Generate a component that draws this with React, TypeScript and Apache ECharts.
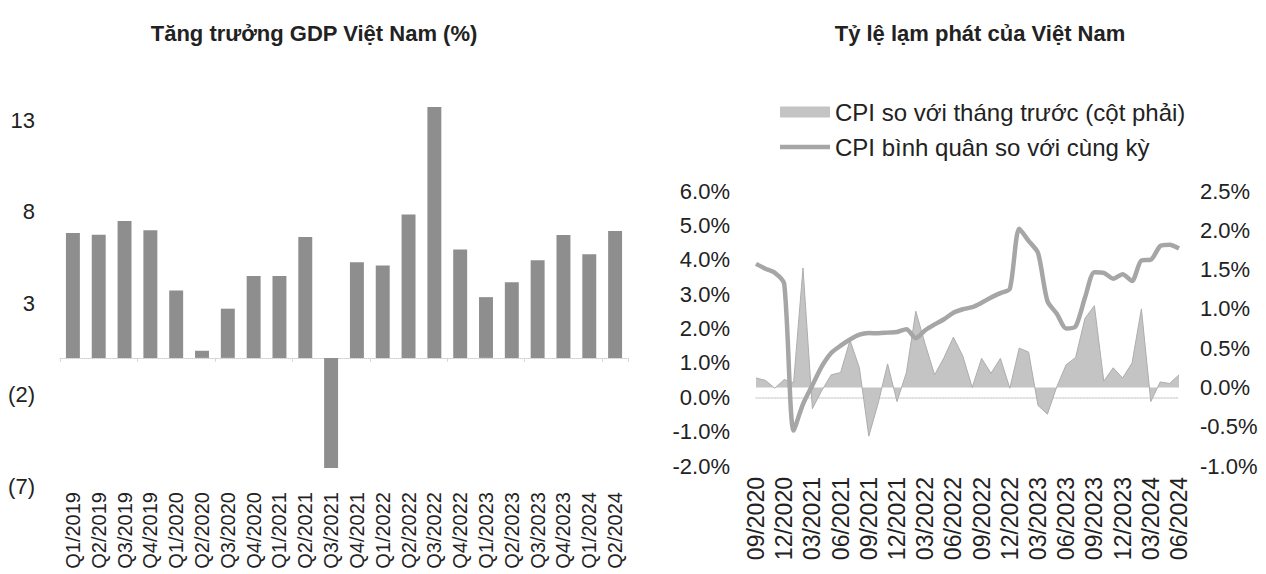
import React, { useEffect, useRef } from "react";
import * as echarts from "echarts";

const gdpQuarters = [
  "Q1/2019", "Q2/2019", "Q3/2019", "Q4/2019",
  "Q1/2020", "Q2/2020", "Q3/2020", "Q4/2020",
  "Q1/2021", "Q2/2021", "Q3/2021", "Q4/2021",
  "Q1/2022", "Q2/2022", "Q3/2022", "Q4/2022",
  "Q1/2023", "Q2/2023", "Q3/2023", "Q4/2023",
  "Q1/2024", "Q2/2024",
];
const gdpGrowth = [
  6.82, 6.73, 7.48, 6.97,
  3.68, 0.39, 2.69, 4.48,
  4.48, 6.61, -6.02, 5.22,
  5.05, 7.83, 13.71, 5.92,
  3.32, 4.14, 5.33, 6.72,
  5.66, 6.93,
];

const cpiMonths = [
  "09/2020", "10/2020", "11/2020", "12/2020",
  "01/2021", "02/2021", "03/2021", "04/2021", "05/2021", "06/2021",
  "07/2021", "08/2021", "09/2021", "10/2021", "11/2021", "12/2021",
  "01/2022", "02/2022", "03/2022", "04/2022", "05/2022", "06/2022",
  "07/2022", "08/2022", "09/2022", "10/2022", "11/2022", "12/2022",
  "01/2023", "02/2023", "03/2023", "04/2023", "05/2023", "06/2023",
  "07/2023", "08/2023", "09/2023", "10/2023", "11/2023", "12/2023",
  "01/2024", "02/2024", "03/2024", "04/2024", "05/2024", "06/2024",
];
// CPI so với tháng trước (%), right axis
const cpiMoM = [
  0.12, 0.09, -0.01, 0.1,
  0.06, 1.52, -0.27, -0.04, 0.16, 0.19,
  0.6, 0.25, -0.62, -0.2, 0.3, -0.18,
  0.19, 0.97, 0.55, 0.16, 0.38, 0.64,
  0.4, 0.0, 0.37, 0.18, 0.37, -0.01,
  0.5, 0.45, -0.23, -0.34, 0.01, 0.29,
  0.38, 0.88, 1.04, 0.08, 0.25, 0.12,
  0.31, 1.0, -0.18, 0.07, 0.05, 0.16,
];
// CPI bình quân so với cùng kỳ (%), left axis
const cpiAvgYoY = [
  3.88, 3.74, 3.62, 3.3,
  -0.97, -0.2, 0.35, 0.9, 1.29, 1.5,
  1.68, 1.82, 1.87, 1.86, 1.88, 1.9,
  1.98, 1.72, 1.95, 2.12, 2.27, 2.46,
  2.56, 2.62, 2.75, 2.9, 3.03, 3.15,
  4.9, 4.55, 4.2, 2.8, 2.43, 2.0,
  2.06, 2.9, 3.64, 3.62, 3.45, 3.58,
  3.38, 3.98, 4.0, 4.4, 4.44, 4.33,
];

const FONT = "'Liberation Sans', Arial, sans-serif";
const TXT = "#222222";
const LINE_ICON = "path://M0,0 L48,0 L48,4.5 L0,4.5 Z";

export default function App() {
  const ref = useRef<HTMLDivElement>(null);

  useEffect(() => {
    if (!ref.current) return;
    const chart = echarts.init(ref.current, undefined, { renderer: "svg" });
    const option: any = {
      animation: false,
      backgroundColor: "#ffffff",
      textStyle: { fontFamily: FONT, color: TXT },
      title: [
        {
          text: "Tăng trưởng GDP Việt Nam (%)",
          left: 309,
          top: 17,
          textAlign: "center",
          textStyle: { fontFamily: FONT, fontSize: 22, fontWeight: "bold", color: TXT },
        },
        {
          text: "Tỷ lệ lạm phát của Việt Nam",
          left: 975,
          top: 17,
          textAlign: "center",
          textStyle: { fontFamily: FONT, fontSize: 22, fontWeight: "bold", color: TXT },
        },
      ],
      legend: {
        orient: "vertical",
        left: 775,
        top: 95,
        itemWidth: 50,
        itemHeight: 11,
        itemGap: 11,
        textStyle: { fontFamily: FONT, fontSize: 24, color: TXT, lineHeight: 24 },
        data: [
          { name: "CPI so với tháng trước (cột phải)", icon: "rect", itemStyle: { color: "#c4c4c4" } },
          { name: "CPI bình quân so với cùng kỳ", icon: LINE_ICON, itemStyle: { color: "#a6a6a6" } },
        ],
      },
      grid: [
        { left: 60, top: 83.4, width: 568, height: 402.6 },
        { left: 756, top: 191, width: 423, height: 275 },
      ],
      xAxis: [
        {
          type: "category",
          gridIndex: 0,
          data: gdpQuarters,
          position: "bottom",
          axisLine: { show: false, onZero: false },
          axisTick: { show: false },
          axisLabel: {
            interval: 0,
            rotate: 90,
            margin: 6,
            fontFamily: FONT,
            fontSize: 20,
            color: TXT,
          },
        },
        {
          type: "category",
          gridIndex: 0,
          data: gdpQuarters,
          position: "bottom",
          axisLine: { show: true, onZero: true, lineStyle: { color: "#cfcfcf", type: "dotted", width: 1 } },
          axisTick: { show: true, length: 4, lineStyle: { color: "#d8d8d8" } },
          axisLabel: { show: false },
        },
        {
          type: "category",
          gridIndex: 1,
          data: cpiMonths,
          boundaryGap: false,
          position: "bottom",
          axisLine: { show: false, onZero: false },
          axisTick: { show: false },
          axisLabel: {
            interval: 2,
            rotate: 90,
            margin: 11,
            fontFamily: FONT,
            fontSize: 23,
            color: TXT,
          },
        },
        {
          type: "category",
          gridIndex: 1,
          data: cpiMonths,
          boundaryGap: false,
          position: "bottom",
          axisLine: {
            show: true,
            onZero: true,
            onZeroAxisIndex: 1,
            lineStyle: { color: "#d6d6d6", type: "dotted", width: 1.5 },
          },
          axisTick: { show: false },
          axisLabel: { show: false },
        },
      ],
      yAxis: [
        {
          type: "value",
          gridIndex: 0,
          min: -7,
          max: 15,
          interval: 5,
          splitLine: { show: false },
          axisLine: { show: false },
          axisTick: { show: false },
          axisLabel: {
            showMaxLabel: false,
            margin: 25,
            fontFamily: FONT,
            fontSize: 22,
            color: TXT,
            formatter: (v: number) => (v < 0 ? "(" + Math.abs(v) + ")" : String(v)),
          },
        },
        {
          type: "value",
          gridIndex: 1,
          position: "left",
          min: -2,
          max: 6,
          interval: 1,
          splitLine: { show: false },
          axisLine: { show: false },
          axisTick: { show: false },
          axisLabel: {
            margin: 26,
            fontFamily: FONT,
            fontSize: 22,
            color: TXT,
            formatter: (v: number) => v.toFixed(1) + "%",
          },
        },
        {
          type: "value",
          gridIndex: 1,
          position: "right",
          min: -1,
          max: 2.5,
          interval: 0.5,
          splitLine: { show: false },
          axisLine: { show: false },
          axisTick: { show: false },
          axisLabel: {
            margin: 21,
            fontFamily: FONT,
            fontSize: 22,
            color: TXT,
            formatter: (v: number) => v.toFixed(1) + "%",
          },
        },
      ],
      series: [
        {
          name: "GDP",
          type: "bar",
          xAxisIndex: 0,
          yAxisIndex: 0,
          data: gdpGrowth,
          barWidth: "54%",
          itemStyle: { color: "#8e8e8e" },
        },
        {
          name: "CPI so với tháng trước (cột phải)",
          type: "line",
          xAxisIndex: 2,
          yAxisIndex: 2,
          data: cpiMoM,
          symbol: "none",
          smooth: false,
          lineStyle: { color: "#adadad", width: 1 },
          itemStyle: { color: "#c4c4c4" },
          areaStyle: { color: "#c4c4c4", opacity: 1 },
          z: 2,
        },
        {
          name: "CPI bình quân so với cùng kỳ",
          type: "line",
          xAxisIndex: 2,
          yAxisIndex: 1,
          data: cpiAvgYoY,
          symbol: "none",
          smooth: 0.25,
          lineStyle: { color: "#a6a6a6", width: 4.5 },
          itemStyle: { color: "#a6a6a6" },
          z: 3,
        },
      ],
    };
    chart.setOption(option);
    return () => chart.dispose();
  }, []);

  return (
    <div
      ref={ref}
      style={{ position: "fixed", left: 0, top: 0, width: 1266, height: 574, background: "#fff" }}
    />
  );
}
